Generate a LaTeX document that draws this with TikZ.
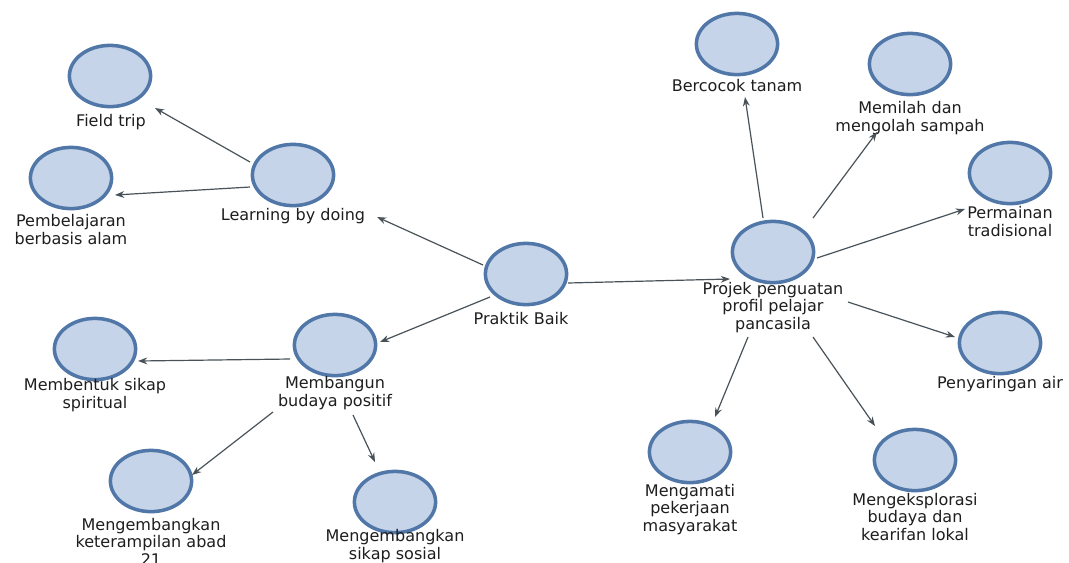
\documentclass[tikz,border=0pt]{standalone}
\usepackage{fontspec}
\setmainfont{DejaVu Sans}
\usetikzlibrary{arrows.meta,shapes.geometric}
\definecolor{cfill}{RGB}{197,212,233}
\definecolor{cline}{RGB}{80,119,168}
\definecolor{eline}{RGB}{72,82,88}
\definecolor{tcol}{RGB}{30,30,30}
\tikzset{
  bub/.style={ellipse, draw=cline, fill=cfill, line width=2.5pt, minimum width=2.03cm, minimum height=1.53cm, inner sep=0pt},
  lab/.style={text=tcol, font=\fontsize{11.4}{12.3}\selectfont, align=center, inner sep=0pt, anchor=base},
  conn/.style={draw=eline, line width=0.85pt, -{Stealth[length=2.3mm,width=1.7mm]}}
}
\begin{document}
\begin{tikzpicture}[x=0.025cm,y=-0.025cm]
\useasboundingbox[fill=white] (0,0) rectangle (1069,562);
% circles
\node[bub] (pb) at (526,274) {};
\node[bub] (lbd) at (293,175) {};
\node[bub] (ft) at (110,76) {};
\node[bub] (pem) at (71,178) {};
\node[bub] (mb) at (335,345) {};
\node[bub] (mbt) at (95,349) {};
\node[bub] (ket) at (151,481) {};
\node[bub] (sos) at (395,502) {};
\node[bub] (pj) at (773,252) {};
\node[bub] (bc) at (737,44) {};
\node[bub] (mp) at (910,64) {};
\node[bub] (pm) at (1010,173) {};
\node[bub] (py) at (1000,343) {};
\node[bub] (ma) at (690,452) {};
\node[bub] (me) at (915,460) {};
% labels (anchored at the baseline of the last line)
\node[lab] (pbL) at (521,324) {Praktik Baik};
\node[lab] (lbdL) at (293,220) {Learning by doing};
\node[lab] (ftL) at (111,126) {Field trip};
\node[lab] (pemL) at (71,244) {Pembelajaran\\berbasis alam};
\node[lab] (mbL) at (335,406) {Membangun\\budaya positif};
\node[lab] (mbtL) at (95,408) {Membentuk sikap\\spiritual};
\node[lab] (ketL) at (151,565) {Mengembangkan\\keterampilan abad\\21};
\node[lab] (sosL) at (395,559) {Mengembangkan\\sikap sosial};
\node[lab] (pjL) at (773,329) {Projek penguatan\\profil pelajar\\pancasila};
\node[lab] (bcL) at (737,91) {Bercocok tanam};
\node[lab] (mpL) at (910,131) {Memilah dan\\mengolah sampah};
\node[lab] (pmL) at (1010,236) {Permainan\\tradisional};
\node[lab] (pyL) at (1000,388) {Penyaringan air};
\node[lab] (maL) at (690,531) {Mengamati\\pekerjaan\\masyarakat};
\node[lab] (meL) at (915,540) {Mengeksplorasi\\budaya dan\\kearifan lokal};
% connectors
\draw[conn] ([shift={(-43,-9)}]pb.center) -- ([shift={(84,-3)}]lbdL.base);
\draw[conn] ([shift={(-43,-13)}]lbd.center) -- ([shift={(45,32)}]ft.center);
\draw[conn] ([shift={(-43,12)}]lbd.center) -- ([shift={(44,17)}]pem.center);
\draw[conn] ([shift={(-36,23)}]pb.center) -- ([shift={(45,-3)}]mb.center);
\draw[conn] ([shift={(42,9)}]pb.center) -- ([shift={(-43,27)}]pj.center);
\draw[conn] ([shift={(-45,14)}]mb.center) -- ([shift={(43,12)}]mbt.center);
\draw[conn] ([shift={(-62,6)}]mbL.base) -- ([shift={(41,-6)}]ket.center);
\draw[conn] ([shift={(18,9)}]mbL.base) -- ([shift={(-20,-40)}]sos.center);
\draw[conn] ([shift={(-10,-34)}]pj.center) -- ([shift={(8,53)}]bc.center);
\draw[conn] ([shift={(40,-34)}]pj.center) -- ([shift={(-33,68)}]mp.center);
\draw[conn] ([shift={(44,6)}]pj.center) -- ([shift={(-45,36)}]pm.center);
\draw[conn] ([shift={(75,50)}]pj.center) -- ([shift={(-45,-6)}]py.center);
\draw[conn] ([shift={(-25,85)}]pj.center) -- ([shift={(25,-35)}]ma.center);
\draw[conn] ([shift={(40,85)}]pj.center) -- ([shift={(-40,-34)}]me.center);
\end{tikzpicture}
\end{document}
